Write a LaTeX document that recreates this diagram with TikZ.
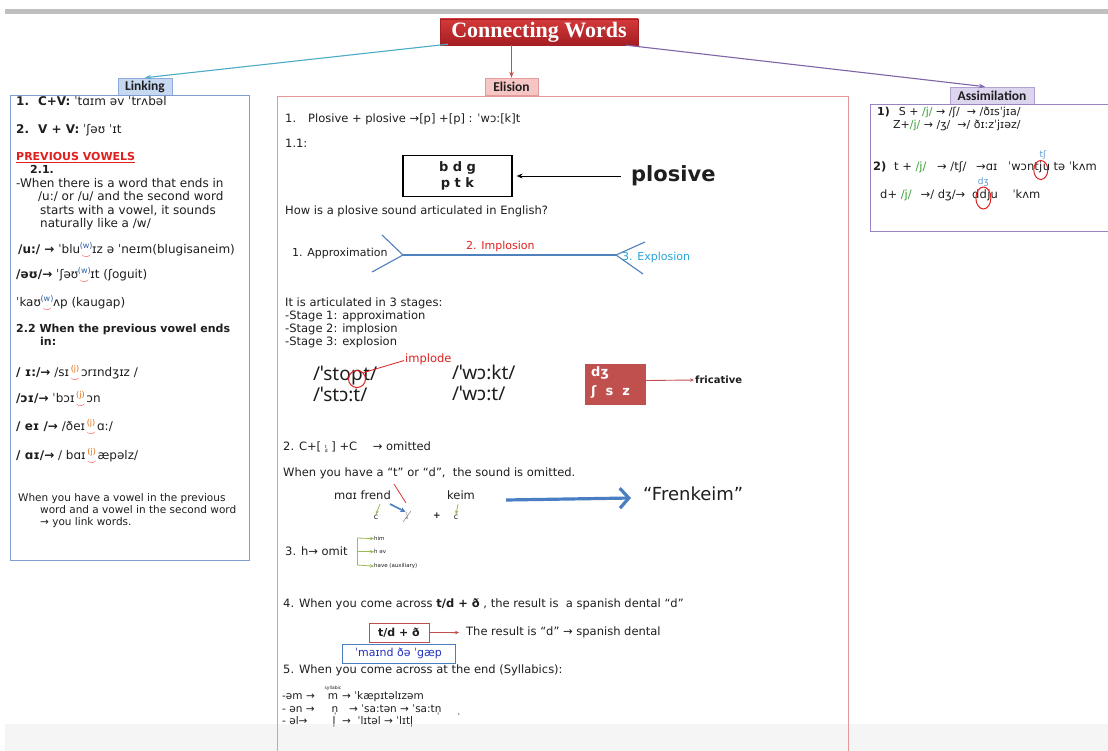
\documentclass[tikz,border=0pt]{standalone}
\usepackage{fontspec}
\setmainfont{DejaVu Sans}
\newfontfamily\titlef{Liberation Serif}
\newfontfamily\headf{Carlito}
\newfontfamily\bigf{Noto Sans}
\usetikzlibrary{arrows.meta,calc,shapes.geometric}
\definecolor{bargray}{HTML}{BFBFBF}
\definecolor{bandgray}{HTML}{F5F5F5}
\definecolor{titletop}{HTML}{D4393A}
\definecolor{titlebot}{HTML}{A51E22}
\definecolor{linkfill}{HTML}{C6D9F1}
\definecolor{linkhdr}{HTML}{8EAADB}
\definecolor{linkbox}{HTML}{7F9FD3}
\definecolor{elfill}{HTML}{F5C6C3}
\definecolor{elhdr}{HTML}{E39B9B}
\definecolor{elbox}{HTML}{E59A9A}
\definecolor{asfill}{HTML}{DDD4EE}
\definecolor{ashdr}{HTML}{B1A2D3}
\definecolor{asbox}{HTML}{9884C0}
\definecolor{tealc}{HTML}{4BACC6}
\definecolor{redarr}{HTML}{C0504D}
\definecolor{purparr}{HTML}{7F64A8}
\definecolor{pvred}{HTML}{E0201F}
\definecolor{wblue}{HTML}{2E5EAA}
\definecolor{jorange}{HTML}{E36C09}
\definecolor{fishblue}{HTML}{4F81BD}
\definecolor{explblue}{HTML}{2AA4D8}
\definecolor{fricred}{HTML}{C0504D}
\definecolor{bigblue}{HTML}{4A7EC2}
\definecolor{ipablue}{HTML}{2233BB}
\definecolor{brgreen}{HTML}{9BBB59}
\definecolor{jgreen}{HTML}{3AA33A}
\definecolor{smblue}{HTML}{5B9BD5}
\definecolor{txt}{HTML}{1E1E1E}
\newcommand\fs[1]{\fontsize{#1}{#1}\selectfont}
\newcommand\ra{→}
\newcommand\lk[2]{\hbox to 12pt{\hss\ooalign{\hfil\raisebox{5.5pt}{\textcolor{#2}{\fs{8}(#1)}}\hfil\cr\hfil\raisebox{-4.5pt}{\textcolor{red}{\fs{9}$\smile$}}\hfil\cr}\hss}}
\newcommand\td{\rlap{\raisebox{2.6pt}{\fs{4.5}t}}\raisebox{-2.2pt}{\fs{4.5}d}}
\begin{document}
\begin{tikzpicture}[x=1pt,y=-1pt,
  tx/.style={anchor=mid west, inner sep=0pt, text=txt, font=\fs{11.5}},
  lx/.style={anchor=mid west, inner sep=0pt, text=txt, font=\fs{12}},
  lb/.style={anchor=mid west, inner sep=0pt, text=txt, font=\fs{11}\bfseries},
  hdr/.style={draw, line width=0.6, minimum height=17, inner sep=1pt, text=txt, font=\headf\bfseries\fs{13.5}},
  titlebox/.style={rectangle, draw=titlebot, top color=titletop, bottom color=titlebot, text=white,
     minimum width=198, minimum height=26, inner sep=0pt, font=\titlef\bfseries\fs{22}},
  conn/.style={line width=1.1, -{Stealth[length=6pt,width=4.5pt]}},
  smarr/.style={-{Stealth[length=4pt,width=3.5pt]}}]
\useasboundingbox (0,0) rectangle (1108,751);
\fill[white] (0,0) rectangle (1108,751);
\fill[bandgray] (5,724) rectangle (1108,751);
\fill[bargray] (5,9.5) rectangle (1108,14.5);

% title and headers
\node[titlebox] (title) at (539,32) {Connecting Words};
\node[hdr, fill=linkfill, draw=linkhdr, minimum width=54] (hlink) at (145,86.5) {Linking};
\node[hdr, fill=elfill, draw=elhdr, minimum width=53] (helis) at (511.5,86.5) {Elision};
\node[hdr, fill=asfill, draw=ashdr, minimum width=84] (hassim) at (992,95.5) {Assimilation};
\draw[conn, tealc] ([xshift=8pt,yshift=1pt]title.south west) -- (hlink.north);
\draw[conn, redarr] (title.south -| helis.north) -- (helis.north);
\draw[conn, purparr] ([xshift=-12pt]title.south east) -- ([xshift=-7pt]hassim.north);

% boxes
\draw[linkbox, line width=1] (10,96) rectangle (249,560);
\draw[elbox, line width=1] (277,97) rectangle (848,760);
\draw[asbox, line width=1] (870,105) rectangle (1115,232);

% ---------- Linking ----------
\node[lx] (l1) at (16,103) {\textbf{1.}\hspace{9pt}\textbf{C+V:} ˈtɑɪm əv ˈtrʌbəl};
\node[lx] (l2) at (16,131) {\textbf{2.}\hspace{9pt}\textbf{V + V:} ˈʃəʊ ˈɪt};
\node[lb, text=pvred] (l3) at (16,158) {\underline{PREVIOUS VOWELS}};
\node[lb] (l4) at (30,171) {2.1.};
\node[lx] (l5) at (16,185) {-When there is a word that ends in};
\node[lx] (l6) at (38,198) {/u:/ or /u/ and the second word};
\node[lx] (l7) at (40,212) {starts with a vowel, it sounds};
\node[lx] (l8) at (40,225) {naturally like a /w/};
\node[lx] (l9) at (18,251) {\textbf{/u:/ \ra} ˈblu\lk{w}{wblue}ɪz ə ˈneɪm(blugisaneim)};
\node[lx] (l10) at (16,276) {\textbf{/əʊ/\ra} ˈʃəʊ\lk{w}{wblue}ɪt (ʃoguit)};
\node[lx] (l11) at (16,304) {ˈkaʊ\lk{w}{wblue}ʌp (kaugap)};
\node[lb] (l12) at (16,330) {2.2 When the previous vowel ends};
\node[lb] (l13) at (40,343) {in:};
\node[lx] (l14) at (16,374) {\textbf{/ ɪ:/\ra} /sɪ\lk{j}{jorange}ɔrɪndʒɪz /};
\node[lx] (l15) at (16,400) {\textbf{/ɔɪ/\ra} ˈbɔɪ\lk{j}{jorange}ɔn};
\node[lx] (l16) at (16,428) {\textbf{/ eɪ /\ra} /ðeɪ\lk{j}{jorange}ɑ:/};
\node[lx] (l17) at (16,457) {\textbf{/ ɑɪ/\ra} / bɑɪ\lk{j}{jorange}æpəlz/};
\node[tx, font=\fs{10.5}] (l18) at (18,499) {When you have a vowel in the previous};
\node[tx, font=\fs{10.5}] (l19) at (40,511) {word and a vowel in the second word};
\node[tx, font=\fs{10.5}] (l20) at (40,523) {\ra\ you link words.};

% ---------- Elision ----------
\node[tx] (e1) at (285,120) {1.\hspace{12pt}Plosive + plosive \ra[p] +[p] : ˈwɔ:[k]t};
\node[tx] (e2) at (285,145) {1.1:};
\node[draw=black, line width=1.3, minimum width=109, minimum height=41, inner sep=0pt, align=center,
      text=txt, font=\fontsize{13}{16}\selectfont\bfseries] (bdg) at (457.5,176) {b d g\\p t k};
\node[anchor=west, inner sep=0pt, text=txt, font=\fs{21}\bfseries] (plos) at (631,176) {plosive};
\draw[line width=0.9, -{Stealth[length=6pt,width=5pt]}] ($(plos.west)+(-10,0)$) -- ($(bdg.east)+(4,0)$);
\node[tx] (e3) at (285,212) {How is a plosive sound articulated in English?};

\coordinate (fa1) at (382,235); \coordinate (fa) at (403,255); \coordinate (fa2) at (372,272);
\coordinate (fb1) at (645,242); \coordinate (fb) at (616,255); \coordinate (fb2) at (643,274);
\draw[fishblue, line width=1.1] (fa1) -- (fa) -- (fa2);
\draw[fishblue, line width=1.1] (fb1) -- (fb) -- (fb2);
\draw[fishblue, line width=1.1] (fa) -- (fb);
\node[tx, font=\fs{11}] (app) at (292,254) {1. Approximation};
\node[tx, font=\fs{11}, text=pvred] (imp) at (466,247) {2. Implosion};
\node[tx, font=\fs{11}, text=explblue] (expl) at (622,258) {3. Explosion};

\node[tx] (st0) at (285,304) {It is articulated in 3 stages:};
\node[tx] (st1) at (285,317) {-Stage 1: approximation};
\node[tx] (st2) at (285,330) {-Stage 2: implosion};
\node[tx] (st3) at (285,343) {-Stage 3: explosion};

\node[tx, font=\bigf\fs{19}] (w1a) at (313,378) {/ˈsto};
\node[tx, font=\bigf\fs{19}] (w1p) at (w1a.mid east) {p};
\node[tx, font=\bigf\fs{19}] (w1b) at (w1p.mid east) {t/};
\node[tx, font=\bigf\fs{19}] (w2) at (313,399) {/ˈstɔ:t/};
\node[tx, font=\bigf\fs{19}] (w3) at (452,377) {/ˈwɔ:kt/};
\node[tx, font=\bigf\fs{19}] (w4) at (452,398) {/ˈwɔ:t/};
\node[tx, font=\fs{11.5}, text=pvred] (impl) at (405,360) {implode};
\node[draw=pvred, line width=1, circle, minimum size=17, inner sep=0pt] (circp) at ($(w1p.mid)+(0,1)$) {};
\draw[pvred, line width=0.8] ($(impl.west)+(-1,1)$) -- (circp.north east);

\node[fill=fricred, minimum width=61, minimum height=41, inner sep=0pt] (fric) at (615.5,384.5) {};
\node[tx, text=white, font=\fs{13}\bfseries] (fr1) at (591,374) {dʒ};
\node[tx, text=white, font=\fs{13}\bfseries] (fr2) at (591,393) {ʃ\hspace{9pt}s\hspace{9pt}z};
\node[tx, font=\fs{10}\bfseries] (fricl) at (695,381) {fricative};
\draw[fricred, line width=0.9, smarr] ($(fric.east)+(0,-4)$) -- ($(fricl.west)+(-1,0)$);

\node[tx] (s2) at (283,448) {2. C+[\ \td\ ] +C \hspace{12pt}\ra\ omitted};
\node[tx] (s2b) at (283,474) {When you have a “t” or “d”,\ \ the sound is omitted.};
\node[tx] (mf) at (334,497) {mɑɪ frend};
\node[tx] (keim) at (447,497) {keim};
\node[inner sep=0pt, text=txt, font=\fs{8}] (c1) at (376,517) {c};
\node[inner sep=0pt, text=gray, font=\fs{5}] (tdn) at (407,516) {\td};
\draw[gray, line width=0.5] (403,522) -- (411,511);
\node[inner sep=0pt, text=txt, font=\fs{9}\bfseries] (plus) at (437,516) {+};
\node[inner sep=0pt, text=txt, font=\fs{8}] (c2) at (456,517) {c};
\draw[brgreen, line width=0.8, smarr] (380,504) -- (c1.north);
\draw[bigblue, line width=1.6, -{Stealth[length=5pt,width=5pt]}] (390,504) -- (tdn.north west);
\draw[pvred, line width=0.7] (394,484) -- (406,503);
\draw[brgreen, line width=0.8, smarr] (458,504) -- (c2.north);
\node[anchor=west, inner sep=0pt, text=txt, font=\fs{18}] (fren) at (643,494) {“Frenkeim”};
\coordinate (fk0) at (506,500);
\draw[bigblue, line width=3.2, -{Straight Barb[length=9pt,width=20pt]}] (fk0) -- ($(fren.west)+(-12,4)$);

\node[tx] (s3) at (285,553) {3. h\ra\ omit};
\coordinate (brt) at (357,538); \coordinate (brb) at (357,565);
\draw[brgreen, line width=0.8] (brt) -- (brb);
\node[tx, font=\fs{5.5}] (h1) at (374,538) {him};
\node[tx, font=\fs{5.5}] (h2) at (374,551) {h əv};
\node[tx, font=\fs{5.5}] (h3) at (374,565) {have (auxiliary)};
\draw[brgreen, line width=0.8, smarr] (brt) -- (h1.west);
\draw[brgreen, line width=0.8, smarr] (brt |- h2.west) -- (h2.west);
\draw[brgreen, line width=0.8, smarr] (brb) -- (h3.west);

\node[tx] (s4) at (283,605) {4. When you come across \textbf{t/d + ð} , the result is\ \ a spanish dental “d”};
\node[draw=fricred, line width=1, minimum width=60, minimum height=19, inner sep=0pt, text=txt, font=\fs{11}\bfseries] (tdbox) at (399,632.5) {t/d + ð};
\node[tx] (res) at (466,633) {The result is “d” \ra\ spanish dental};
\draw[fricred, line width=0.9, smarr] (tdbox.east) -- ($(res.west)+(-7,0)$);
\node[draw=bigblue, line width=1, minimum width=113, minimum height=19, inner sep=0pt, text=ipablue, font=\fs{11}] (mind) at (398.5,653.5) {ˈmaɪnd ðə ˈgæp};
\node[tx] (s5) at (283,671) {5. When you come across at the end (Syllabics):};

\node[tx, font=\fs{10.5}] (y1a) at (282,697) {-əm \ra};
\node[tx, font=\fs{10.5}] (y2a) at (282,710) {- ən \ra};
\node[tx, font=\fs{10.5}] (y3a) at (282,722) {- əl\ra};
\node[inner sep=0pt, text=txt, font=\fs{4.5}] (sylab) at (333,688) {syllabic};
\node[inner sep=0pt, anchor=mid, text=txt, font=\fs{10.5}] (y1b) at (333,697) {m};
\node[inner sep=0pt, anchor=mid, text=txt, font=\fs{10.5}] (y2b) at (335,710) {n̩};
\node[inner sep=0pt, anchor=mid, text=txt, font=\fs{10.5}] (y3b) at (334,722) {l̩};
\node[tx, font=\fs{10.5}] (y1c) at (342,697) {\ra\ ˈkæpɪtəlɪzəm};
\node[tx, font=\fs{10.5}] (y2c) at (349,710) {\ra\ ˈsa:tən \ra\ ˈsa:tn̩};
\node[tx, font=\fs{10.5}] (y3c) at (342,722) {\ra\ \ ˈlɪtəl \ra\ ˈlɪtl̩};
\node[inner sep=0pt, text=txt, font=\fs{8}] (stray) at (459,716) {ˈ};

% ---------- Assimilation ----------
\node[tx, font=\fs{11}] (a1) at (877,113) {\textbf{1)}\hspace{9pt}S + \textcolor{jgreen}{/j/} \ra\ /ʃ/\ \ \ra\ /ðɪsˈjɪa/};
\node[tx, font=\fs{11}] (a2) at (893,126) {Z+\textcolor{jgreen}{/j/} \ra\ /ʒ/\ \ \ra/ ðɪ:zˈjɪəz/};
\node[tx] (a3a) at (873,168) {\textbf{2)}\hspace{4pt} t + \textcolor{jgreen}{/j/} \hspace{7pt}\ra\ /tʃ/ \hspace{6pt}\ra ɑɪ \hspace{7pt}ˈwɔnt};
\node[tx] (a3j) at (a3a.mid east) {j};
\node[tx] (a3b) at (a3j.mid east) {u tə ˈkʌm};
\node[tx] (a4a) at (880,196) {d+ \textcolor{jgreen}{/j/}\hspace{9pt}\ra/ dʒ/\ra\ \hspace{3pt}d};
\node[tx] (a4d) at (a4a.mid east) {d};
\node[tx] (a4b) at (a4d.mid east) {ju\ \ \ \ ˈkʌm};
\node[draw=pvred, line width=1, ellipse, minimum width=14, minimum height=19, inner sep=0pt] (el1) at ($(a3j.mid)+(0,2)$) {};
\node[draw=pvred, line width=1, ellipse, minimum width=15, minimum height=22, inner sep=0pt] (el2) at ($(a4d.mid)+(0,2)$) {};
\node[inner sep=0pt, text=smblue, font=\fs{9}] (tsh) at ($(el1.north)+(2,-5)$) {tʃ};
\node[inner sep=0pt, text=smblue, font=\fs{9}] (dzh) at ($(el2.north)+(0,-4)$) {dʒ};
\end{tikzpicture}
\end{document}
